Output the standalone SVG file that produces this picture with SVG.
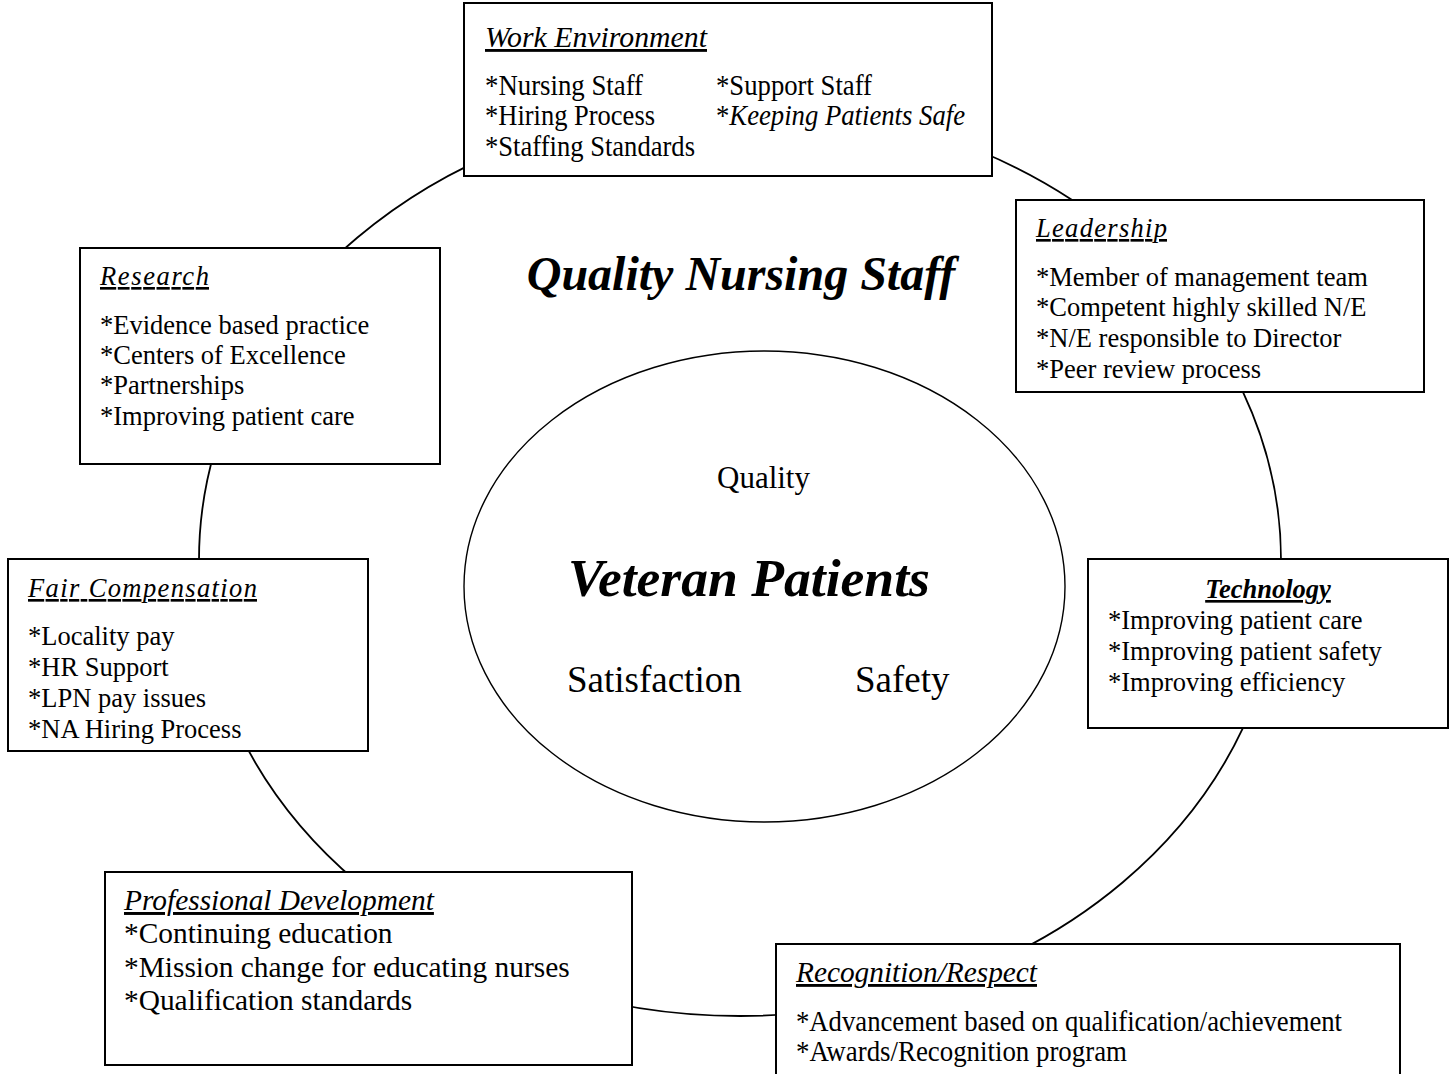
<svg xmlns="http://www.w3.org/2000/svg" width="1454" height="1074" viewBox="0 0 1454 1074">
  <style>
    .box { fill: #ffffff; stroke: #000000; stroke-width: 2; }
    .ring { fill: none; stroke: #000000; stroke-width: 1.8; }
    .inner { fill: none; stroke: #000000; stroke-width: 1.4; }
    .t { font-family: "Liberation Serif", "Times New Roman", serif; fill: #000000; font-size: 26.5px; }
    .cond { font-size: 28.5px; }
    .head { font-style: italic; text-decoration: underline; }
    .pd { font-size: 29.4px; }
    .big { font-family: "Liberation Serif", "Times New Roman", serif; font-weight: bold; font-style: italic; fill: #000000; }
    .mid { font-family: "Liberation Serif", "Times New Roman", serif; fill: #000000; }
  </style>
  <defs>
    <clipPath id="fairClip"><rect x="8" y="559" width="360" height="185"/></clipPath>
  </defs>
  <rect width="1454" height="1074" fill="#ffffff"/>

  <!-- outer ring linking the factor boxes -->
  <g id="connectors">
    <ellipse class="ring" cx="740" cy="560" rx="541" ry="456"/>
  </g>

  <!-- centre: patients -->
  <g id="center">
    <ellipse class="inner" cx="764.5" cy="586.5" rx="300.5" ry="235.5"/>
    <text class="big" x="741" y="290" font-size="48" text-anchor="middle">Quality Nursing Staff</text>
    <text class="mid" x="763.5" y="488" font-size="31" text-anchor="middle">Quality</text>
    <text class="big" x="749" y="596" font-size="53.6" text-anchor="middle">Veteran Patients</text>
    <text class="mid" x="567" y="692" font-size="37">Satisfaction</text>
    <text class="mid" x="855" y="692" font-size="37">Safety</text>
  </g>

  <g id="work-environment">
    <rect class="box" x="464" y="3" width="528" height="173"/>
    <text class="t cond head" x="485" y="47" textLength="222" lengthAdjust="spacingAndGlyphs">Work Environment</text>
    <text class="t cond" x="485" y="95" textLength="158" lengthAdjust="spacingAndGlyphs">*Nursing Staff</text>
    <text class="t cond" x="485" y="125" textLength="170" lengthAdjust="spacingAndGlyphs">*Hiring Process</text>
    <text class="t cond" x="485" y="156" textLength="210" lengthAdjust="spacingAndGlyphs">*Staffing Standards</text>
    <text class="t cond" x="716" y="95" textLength="156" lengthAdjust="spacingAndGlyphs">*Support Staff</text>
    <text class="t cond" x="716" y="125" textLength="249" lengthAdjust="spacingAndGlyphs">*<tspan font-style="italic">Keeping Patients Safe</tspan></text>
  </g>

  <g id="leadership">
    <rect class="box" x="1016" y="200" width="408" height="192"/>
    <text class="t head" x="1036" y="237" textLength="131" lengthAdjust="spacing">Leadership</text>
    <text class="t" x="1036" y="286">*Member of management team</text>
    <text class="t" x="1036" y="316">*Competent highly skilled N/E</text>
    <text class="t" x="1036" y="347">*N/E responsible to Director</text>
    <text class="t" x="1036" y="378">*Peer review process</text>
  </g>

  <g id="research">
    <rect class="box" x="80" y="248" width="360" height="216"/>
    <text class="t head" x="100" y="285" textLength="109" lengthAdjust="spacing">Research</text>
    <text class="t" x="100" y="334">*Evidence based practice</text>
    <text class="t" x="100" y="364">*Centers of Excellence</text>
    <text class="t" x="100" y="394">*Partnerships</text>
    <text class="t" x="100" y="425">*Improving patient care</text>
  </g>

  <g id="technology">
    <rect class="box" x="1088" y="559" width="360" height="169"/>
    <text class="t head" x="1268" y="598" font-weight="bold" text-anchor="middle">Technology</text>
    <text class="t" x="1108" y="629">*Improving patient care</text>
    <text class="t" x="1108" y="660">*Improving patient safety</text>
    <text class="t" x="1108" y="691">*Improving efficiency</text>
  </g>

  <g id="fair-compensation">
    <rect class="box" x="8" y="559" width="360" height="192"/>
    <text class="t head" x="28" y="597" textLength="229" lengthAdjust="spacing">Fair Compensation</text>
    <g clip-path="url(#fairClip)">
      <text class="t" x="28" y="645">*Locality pay</text>
      <text class="t" x="28" y="676">*HR Support</text>
      <text class="t" x="28" y="707">*LPN pay issues</text>
      <text class="t" x="28" y="738">*NA Hiring Process</text>
    </g>
  </g>

  <g id="professional-development">
    <rect class="box" x="105" y="872" width="527" height="193"/>
    <text class="t pd head" x="124" y="910">Professional Development</text>
    <text class="t pd" x="124" y="943">*Continuing education</text>
    <text class="t pd" x="124" y="977">*Mission change for educating nurses</text>
    <text class="t pd" x="124" y="1010">*Qualification standards</text>
  </g>

  <g id="recognition-respect">
    <rect class="box" x="776" y="944" width="624" height="140"/>
    <text class="t cond head" x="796" y="982" textLength="241" lengthAdjust="spacingAndGlyphs">Recognition/Respect</text>
    <text class="t cond" x="796" y="1031" textLength="546" lengthAdjust="spacingAndGlyphs">*Advancement based on qualification/achievement</text>
    <text class="t cond" x="796" y="1061" textLength="331" lengthAdjust="spacingAndGlyphs">*Awards/Recognition program</text>
  </g>
</svg>
